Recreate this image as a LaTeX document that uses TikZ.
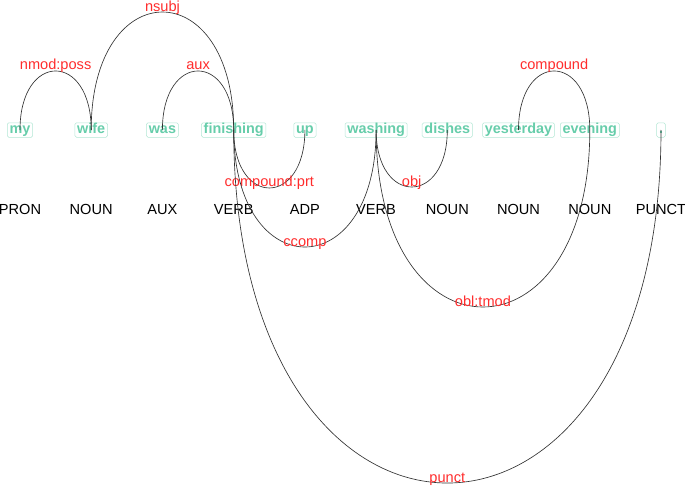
\documentclass[tikz,border=0pt]{standalone}
\usepackage{fontspec}
\setmainfont{Liberation Sans}
\definecolor{wordgreen}{RGB}{102,205,170}
\definecolor{labred}{RGB}{255,45,45}
\definecolor{edgegrey}{RGB}{50,50,50}
\tikzset{
  word/.style={font=\fontsize{14.4}{14.4}\selectfont\bfseries, text=wordgreen,
    draw=wordgreen!50, line width=0.5pt, rounded corners=1.5pt,
    inner xsep=2.3pt, inner ysep=0.5pt, text height=10pt, text depth=3.5pt},
  postag/.style={font=\fontsize{14.6}{14.6}\selectfont, anchor=base, inner sep=0pt},
  dep/.style={draw=edgegrey, line width=0.65pt},
  deplab/.style={font=\fontsize{14.6}{14.6}\selectfont, text=labred, anchor=base,
    inner sep=0pt, yshift=1pt}
}
\begin{document}
\begin{tikzpicture}[x=1pt,y=-1pt]
\useasboundingbox (0,0) rectangle (685,487);
% words
\node[word] (w0) at (20,130) {my};
\node[word] (w1) at (91.2,130) {wife};
\node[word] (w2) at (162.4,130) {was};
\node[word] (w3) at (233.7,130) {finishing};
\node[word] (w4) at (304.9,130) {up};
\node[word] (w5) at (376.1,130) {washing};
\node[word] (w6) at (447.3,130) {dishes};
\node[word] (w7) at (518.5,130) {yesterday};
\node[word] (w8) at (589.8,130) {evening};
\node[word] (w9) at (661,130) {.};
% part-of-speech tags
\node[postag] (p0) at (20,214) {PRON};
\node[postag] (p1) at (91.2,214) {NOUN};
\node[postag] (p2) at (162.4,214) {AUX};
\node[postag] (p3) at (233.7,214) {VERB};
\node[postag] (p4) at (304.9,214) {ADP};
\node[postag] (p5) at (376.1,214) {VERB};
\node[postag] (p6) at (447.3,214) {NOUN};
\node[postag] (p7) at (518.5,214) {NOUN};
\node[postag] (p8) at (589.8,214) {NOUN};
\node[postag] (p9) at (661,214) {PUNCT};
% upper arcs (height 59 per word of span; control = 4/3 height)
\draw[dep] (w1.center) .. controls +(0,-78.7) and +(0,-78.7) .. (w0.center)
  node[deplab,pos=0.5] (l1) {nmod:poss};
\draw[dep] (w3.center) .. controls +(0,-157.3) and +(0,-157.3) .. (w1.center)
  node[deplab,pos=0.5] (l2) {nsubj};
\draw[dep] (w3.center) .. controls +(0,-78.7) and +(0,-78.7) .. (w2.center)
  node[deplab,pos=0.5] (l3) {aux};
\draw[dep] (w8.center) .. controls +(0,-78.7) and +(0,-78.7) .. (w7.center)
  node[deplab,pos=0.5] (l4) {compound};
% lower arcs
\draw[dep] (w3.center) .. controls +(0,77.3) and +(0,77.3) .. (w4.center)
  node[deplab,pos=0.5] (l5) {compound:prt};
\draw[dep] (w3.center) .. controls +(0,156) and +(0,156) .. (w5.center)
  node[deplab,pos=0.5] (l6) {ccomp};
\draw[dep] (w5.center) .. controls +(0,76) and +(0,76) .. (w6.center)
  node[deplab,pos=0.5] (l7) {obj};
\draw[dep] (w5.center) .. controls +(0,236) and +(0,236) .. (w8.center)
  node[deplab,pos=0.5] (l8) {obl:tmod};
\draw[dep] (w3.center) .. controls +(0,470.7) and +(0,470.7) .. (w9.center)
  node[deplab,pos=0.5] (l9) {punct};
\end{tikzpicture}
\end{document}
